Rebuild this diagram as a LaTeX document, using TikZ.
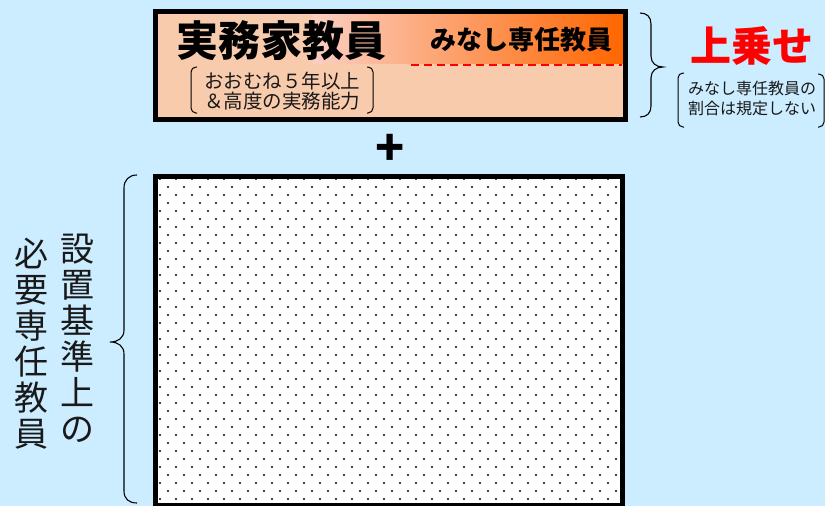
\documentclass[tikz,border=0pt]{standalone}
\usepackage{fontspec}
\newfontfamily\jp{Noto Sans CJK JP}
\definecolor{bgblue}{HTML}{CCECFF}
\definecolor{peach}{HTML}{F8CBAD}
\definecolor{orangeR}{HTML}{FF6600}
\definecolor{pinkL}{HTML}{FBCFC2}
\begin{document}
\begin{tikzpicture}[x=1pt,y=-1pt,
  frame/.style={line width=5pt},
  txt/.style={font=\jp,inner sep=0pt,align=center,text=black!90},
  bracket/.style={line width=1pt,rounded corners=5pt},
  bigbrace/.style={line width=1.1pt}]
\fill[bgblue] (0,0) rectangle (825,506);
\useasboundingbox (0,0) rectangle (825,506);
% upper block
\fill[peach] (155.5,11.5) rectangle (625.5,119.5);
\shade[left color=pinkL,right color=orangeR] (313,14) rectangle (623,63);
\draw[red,line width=2.5pt,dash pattern=on 8pt off 5pt] (411,65) -- (622,65);
\draw[frame] (155.5,11.5) rectangle (625.5,119.5);
\node[txt,text=black,font=\jp\bfseries\fontsize{42}{42}\selectfont] (jitsumu) at (281,41) {実務家教員};
\node[txt,text=black,font=\jp\bfseries\fontsize{26}{26}\selectfont] (minashi) at (521,40) {みなし専任教員};
\node[txt,font=\jp\fontsize{19.5}{20}\selectfont] (jouken) at (282,91) {おおむね５年以上\\＆高度の実務能力};
\draw[bracket] (197,67) -- (191,67) -- (191,113) -- (197,113);
\draw[bracket] (367,67) -- (373,67) -- (373,113) -- (367,113);
% right side
\draw[bigbrace] (640,13) .. controls (647,13) and (651,17) .. (651,24) -- (651,56) .. controls (651,63) and (656,67) .. (663,67) .. controls (656,67) and (651,71) .. (651,78) -- (651,106) .. controls (651,113) and (647,117) .. (640,117);
\node[txt,text=red,font=\jp\bfseries\fontsize{41}{41}\selectfont] (uwanose) at (752,46) {上乗せ};
\node[txt,font=\jp\fontsize{16}{20}\selectfont] (wariai) at (752,98) {みなし専任教員の\\割合は規定しない};
\draw[bracket] (684,73) -- (678,73) -- (678,127) -- (684,127);
\draw[bracket] (818,74) -- (824,74) -- (824,127) -- (818,127);
% plus
\node[txt,text=black,font=\jp\bfseries\fontsize{48}{48}\selectfont] (plus) at (390,150) {+};
% lower block
\fill[white] (155.5,176.5) rectangle (622.5,505);
\begin{scope}
\clip (158,179) rectangle (620,503);
\foreach \j in {0,...,41}{
  \foreach \i in {0,...,29}{
    \fill ({160+8*mod(\j,2)+16*\i},{179+8*\j}) circle[radius=1.1pt];
  }
}
\end{scope}
\draw[frame] (155.5,176.5) rectangle (622.5,505);
\draw[bigbrace] (137,175) .. controls (129,175) and (124,180) .. (124,188) -- (124,330) .. controls (124,338) and (118,342) .. (110,342) .. controls (118,342) and (124,346) .. (124,354) -- (124,491) .. controls (124,499) and (129,503) .. (137,503);
\node[txt,font=\jp\fontsize{34}{36}\selectfont] (kijun) at (77,338) {設\\置\\基\\準\\上\\の};
\node[txt,font=\jp\fontsize{34}{36}\selectfont] (hitsuyou) at (31,344) {必\\要\\専\\任\\教\\員};
\end{tikzpicture}
\end{document}
